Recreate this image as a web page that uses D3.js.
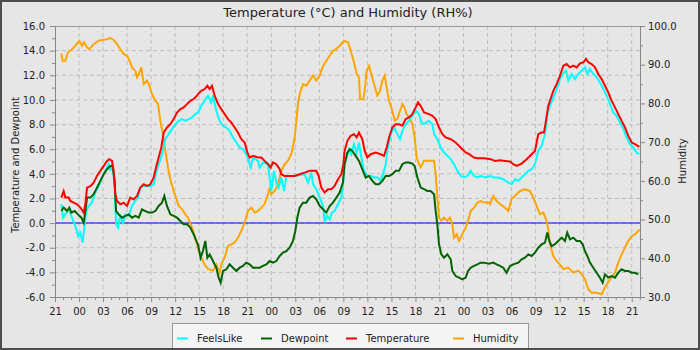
<!DOCTYPE html>
<html><head><meta charset="utf-8">
<script src="https://cdn.jsdelivr.net/npm/d3@7"></script>
<style>
html,body{margin:0;padding:0;background:#e6e6e6;}
svg{display:block;font-family:"DejaVu Sans",sans-serif;}
</style></head>
<body><svg id="c" width="700" height="350"></svg>
<script>
// ---- data (t = hours since 21:00 on the first day) ----
const hourLabels = ["21","00","03","06","09","12","15","18","21","00","03","06","09","12","15","18","21","00","03","06","09","12","15","18","21"];
const seriesNames = ["FeelsLike","Dewpoint","Temperature","Humidity"];
const seriesColors = ["#00ffff","#006400","#ff0000","#ffa500"];

const tempT = [0.79,1.08,1.29,1.71,1.91,2.33,2.75,3.16,3.58,3.79,4.0,4.41,4.83,5.24,5.66,6.08,6.49,6.78,7.12,7.32,7.53,7.74,8.16,8.57,8.99,9.4,9.82,10.24,10.65,11.07,11.49,11.9,12.32,12.61,12.94,13.27,13.57,13.98,14.4,14.81,15.23,15.65,16.06,16.48,16.9,17.31,17.73,17.85,18.27,18.68,19.02,19.31,19.6,19.93,20.35,20.76,21.18,21.6,22.01,22.43,22.84,23.26,23.68,24.01,24.3,24.72,25.34,25.76,26.17,26.59,26.92,27.21,27.63,28.05,28.25,28.67,29.29,29.92,30.54,31.17,31.79,32.62,32.91,33.25,33.66,34.08,34.5,34.91,35.33,35.74,36.0,36.15,36.5,36.91,37.33,37.66,37.95,38.37,38.66,38.99,39.41,40.03,40.66,41.07,41.41,41.7,42.11,42.53,42.95,43.36,43.78,44.19,44.61,45.03,45.32,45.65,46.07,46.69,47.11,47.52,47.94,48.36,48.77,49.4,50.02,50.44,50.85,51.27,51.69,52.31,52.73,53.56,54.39,54.92,55.55,56.17,56.8,57.21,57.63,58.25,58.88,59.5,59.92,60.13,60.33,60.75,61.04,61.29,61.58,61.87,62.21,62.62,62.96,63.25,63.46,63.87,64.29,64.7,65.12,65.54,65.95,66.29,66.58,66.99,67.41,67.82,68.24,68.66,69.07,69.49,69.91,70.32,70.74,71.15,71.57,71.99,72.4,72.94];
const tempV = [2.07,2.6,2.07,2.07,1.8,1.66,1.53,1.26,0.85,1.53,2.88,3.0,3.29,3.83,4.24,4.64,5.05,5.19,5.05,4.24,2.34,1.8,1.53,1.66,1.39,2.07,1.93,2.2,2.88,3.15,3.02,3.15,3.7,4.51,5.32,6.14,7.35,7.76,8.03,8.44,8.98,9.25,9.39,9.66,9.93,10.07,10.34,10.47,10.74,10.88,11.15,10.88,11.15,10.34,9.66,9.25,8.85,8.44,8.17,7.76,7.35,6.81,6.54,5.73,5.32,5.46,5.32,5.32,5.05,4.78,4.51,4.92,4.78,4.37,3.97,3.83,3.83,3.83,3.97,4.1,4.24,4.24,3.83,2.88,2.48,2.75,2.75,3.02,3.56,3.97,4.78,5.86,6.68,7.08,7.22,6.95,7.35,6.81,5.86,5.32,5.59,5.73,5.59,5.46,6.14,6.95,7.76,8.03,8.03,7.9,8.44,8.57,8.85,9.39,9.79,9.52,8.98,8.85,8.71,8.44,7.76,7.22,6.95,6.81,6.54,6.27,6.0,5.73,5.59,5.32,5.27,5.27,5.19,5.05,5.1,5.05,5.0,4.78,4.64,4.83,5.19,5.59,5.86,6.54,7.22,7.35,7.35,8.3,9.52,10.07,10.74,11.28,11.83,12.37,12.78,12.91,12.64,12.78,12.64,12.96,13.05,13.32,13.05,12.91,12.64,12.1,11.69,11.15,10.61,9.93,9.39,8.85,8.3,7.76,7.08,6.54,6.41,6.19];

const feelsT = [0.79,1.0,1.29,1.71,2.12,2.54,2.87,3.16,3.45,3.7,3.91,4.2,4.62,5.03,5.45,5.87,6.28,6.7,6.91,7.12,7.45,7.62,7.87,8.16,8.45,8.78,9.2,9.61,10.03,10.36,10.65,11.07,11.9,12.32,12.61,12.94,13.36,13.77,14.19,14.61,15.02,15.44,15.85,16.27,16.69,17.1,17.52,17.85,18.27,18.68,19.1,19.51,19.72,20.14,20.55,20.97,21.39,21.8,22.22,22.64,23.05,23.47,23.88,24.18,24.43,24.72,25.34,25.55,25.96,26.59,26.8,27.0,27.34,27.63,27.92,28.25,28.59,28.88,29.92,31.17,31.58,32.0,32.21,32.62,33.04,33.46,33.66,34.0,34.29,34.58,34.91,35.33,35.74,36.0,36.15,36.41,36.7,37.0,37.33,37.66,37.95,38.24,38.58,38.99,39.41,39.83,40.24,40.66,41.07,41.28,41.49,41.91,42.32,42.74,43.07,43.36,43.78,44.19,44.61,45.03,45.44,45.73,46.07,46.69,47.11,47.32,47.73,48.15,48.56,48.98,49.4,49.81,50.23,50.65,51.06,51.48,51.89,52.31,52.73,53.14,53.77,54.39,54.72,55.34,55.96,56.59,57.0,57.42,57.84,58.25,58.67,59.09,59.5,59.92,60.33,60.75,61.17,61.46,61.79,62.21,62.62,63.04,63.37,63.79,64.08,64.5,64.91,65.33,65.74,66.16,66.45,66.78,67.2,67.62,68.03,68.45,68.87,69.28,69.7,70.11,70.53,70.95,71.36,71.78,72.19,72.61,72.94];
const feelsV = [1.53,0.44,0.71,1.12,0.44,-0.23,-1.05,-0.77,-1.59,-0.1,0.98,1.39,1.66,2.48,3.0,3.7,4.24,4.78,4.24,4.78,3.15,-0.1,-0.37,0.71,-0.1,0.71,0.58,1.39,1.8,2.07,2.88,3.02,3.0,3.15,4.1,4.78,5.59,6.81,7.22,7.63,8.03,8.3,8.44,8.3,8.44,8.57,8.85,8.98,9.52,9.93,10.34,9.79,10.34,9.12,8.3,7.9,7.76,7.49,6.95,6.54,6.14,6.0,5.59,5.05,4.51,5.32,5.05,4.51,4.92,4.78,3.7,2.61,4.24,3.29,2.88,3.7,2.61,3.83,3.83,3.97,3.29,4.1,3.15,2.75,2.07,1.39,0.17,0.58,0.31,0.85,0.98,1.53,2.07,3.43,4.78,5.32,6.0,5.59,6.41,5.73,6.54,5.32,4.24,3.83,3.83,3.7,3.7,3.43,4.24,4.78,5.86,7.22,7.76,7.22,6.81,7.49,8.03,8.3,8.71,9.12,8.85,8.17,8.03,8.3,8.03,7.22,6.81,6.14,5.73,5.46,5.19,4.78,4.24,3.83,3.7,3.83,4.24,3.83,3.7,3.83,3.7,3.83,3.7,3.7,3.56,3.29,3.15,3.56,3.43,3.7,3.97,4.24,4.37,4.78,5.86,6.27,7.22,8.85,9.52,10.2,10.88,11.69,12.1,12.37,11.56,12.1,11.69,12.1,12.37,12.64,12.1,12.51,12.1,11.83,11.42,10.88,10.34,9.66,8.98,8.71,8.17,7.63,6.95,6.41,6.14,5.73,5.59];

const dewT = [0.79,1.08,1.5,1.79,2.04,2.45,2.87,3.29,3.58,3.79,4.0,4.41,4.83,5.24,5.66,6.08,6.49,6.91,7.2,7.45,7.62,7.95,8.37,8.78,9.2,9.61,10.03,10.45,10.86,11.28,11.69,12.11,12.53,12.94,13.36,13.65,13.98,14.4,14.81,15.23,15.65,16.06,16.48,16.9,17.31,17.73,17.85,18.18,18.47,18.77,19.02,19.31,19.72,20.14,20.43,20.68,20.97,21.39,21.8,22.22,22.64,23.05,23.47,23.88,24.3,24.72,25.55,25.96,26.38,26.8,27.21,27.63,28.05,28.46,28.88,29.29,29.71,30.0,30.25,30.54,30.96,31.37,31.79,32.21,32.62,33.04,33.46,33.87,34.29,34.7,35.12,35.54,35.95,36.15,36.5,36.83,37.12,37.54,37.95,38.37,38.79,39.2,39.62,40.03,40.45,40.87,41.28,41.7,42.11,42.53,42.95,43.36,43.78,44.19,44.61,44.9,45.24,45.65,46.07,46.48,46.9,47.32,47.52,47.73,47.94,48.23,48.56,48.98,49.4,49.6,50.02,50.44,50.85,51.27,51.56,51.89,52.31,52.73,53.14,53.56,54.18,54.72,55.13,55.55,55.96,56.38,56.8,57.21,57.84,58.25,58.67,59.09,59.5,59.92,60.33,60.75,61.17,61.46,61.71,62.0,62.41,62.83,63.25,63.66,63.95,64.29,64.7,65.12,65.54,65.87,66.16,66.45,66.78,67.2,67.62,68.03,68.37,68.66,69.07,69.49,69.91,70.32,70.74,71.15,71.57,71.99,72.4,72.82];
const dewV = [0.98,1.26,0.98,1.26,0.85,0.98,0.71,0.44,0.03,0.98,2.07,2.07,2.34,2.88,3.43,3.97,4.37,4.64,4.64,3.43,0.98,0.71,0.44,0.58,0.71,0.44,0.58,0.44,1.12,0.98,0.85,0.85,0.98,1.39,1.66,2.2,1.39,0.71,0.58,0.44,0.17,-0.1,-0.1,-0.37,-0.91,-1.59,-1.72,-2.81,-2.27,-1.45,-2.81,-2.54,-3.08,-3.62,-4.43,-4.84,-3.89,-3.75,-3.35,-3.62,-3.89,-3.62,-3.48,-3.21,-3.35,-3.62,-3.62,-3.48,-3.35,-3.08,-3.21,-3.08,-2.67,-2.4,-2.27,-2.0,-1.45,-0.64,0.44,1.26,1.66,1.66,2.07,2.2,1.93,1.39,1.12,0.85,1.39,1.66,2.07,2.48,3.29,4.78,5.73,6.0,5.86,5.46,5.05,4.37,3.7,3.83,3.43,3.15,3.15,3.43,3.83,3.83,3.97,4.24,4.24,4.78,4.92,4.92,4.83,4.64,3.7,2.88,2.75,2.61,2.61,2.34,0.98,-0.1,-1.72,-2.54,-2.81,-2.54,-2.94,-3.89,-4.3,-4.43,-4.57,-4.43,-3.89,-3.62,-3.48,-3.35,-3.21,-3.21,-3.3,-3.21,-3.35,-3.48,-3.62,-4.03,-3.48,-3.35,-3.21,-2.94,-2.81,-2.54,-2.67,-2.4,-2.0,-1.72,-1.59,-0.77,-1.45,-1.86,-1.72,-1.45,-1.18,-1.45,-0.77,-1.32,-1.18,-1.45,-1.45,-1.72,-2.27,-2.67,-3.21,-3.62,-4.03,-4.43,-4.84,-4.16,-4.43,-4.3,-4.43,-4.03,-3.75,-3.89,-3.89,-4.03,-4.03,-4.16];

const humT = [0.79,0.96,1.29,1.62,2.12,2.54,3.04,3.37,3.62,4.0,4.29,4.83,5.45,5.87,6.49,6.91,7.32,7.74,8.16,8.57,8.99,9.4,9.61,10.03,10.24,10.53,10.78,11.07,11.49,11.78,12.11,12.53,12.86,13.15,13.48,13.77,14.11,14.44,14.81,15.1,15.44,15.85,16.27,16.6,17.1,17.52,17.94,18.27,18.68,19.1,19.72,20.14,20.55,20.76,21.18,21.6,22.01,22.43,22.84,23.26,23.68,24.09,24.51,24.92,25.34,25.76,26.17,26.59,26.8,27.0,27.42,27.84,28.25,28.67,29.09,29.5,29.92,30.13,30.33,30.54,30.96,31.37,31.79,32.21,32.62,33.04,33.46,33.87,34.29,34.7,35.12,35.54,35.95,36.08,36.58,36.91,37.33,37.66,37.95,38.08,38.49,38.66,38.91,39.2,39.49,39.83,40.24,40.57,40.87,41.16,41.41,41.7,42.11,42.41,42.74,43.07,43.36,43.65,43.9,44.19,44.61,44.9,45.15,45.44,45.65,46.07,46.69,47.32,47.52,47.73,47.94,48.23,48.56,48.98,49.31,49.6,49.81,50.15,50.44,50.85,51.27,51.69,51.89,52.31,52.73,53.14,53.56,54.18,54.3,54.72,55.13,55.55,56.17,56.59,57.0,57.42,58.05,58.67,59.29,59.71,60.13,60.54,60.96,61.37,61.58,61.79,62.21,62.62,63.04,63.46,64.08,64.7,65.33,65.74,66.16,66.58,66.99,67.62,68.24,68.66,69.07,69.49,69.91,70.32,70.74,71.15,71.57,71.99,72.4,72.82,73.0];
const humV = [92.9,91.0,91.0,93.2,94.0,94.9,96.2,94.9,95.8,94.5,94.0,95.3,96.2,96.4,96.6,96.9,96.4,95.3,94.0,92.8,92.3,90.6,89.3,88.4,86.7,87.9,89.3,85.0,85.9,84.6,82.4,80.7,79.8,75.5,72.0,67.8,63.4,60.0,57.4,55.7,53.5,52.7,51.4,50.5,47.9,45.3,41.9,40.2,38.4,37.2,36.8,38.4,36.3,38.4,40.2,43.2,43.6,44.1,45.3,47.1,49.2,52.2,53.1,51.8,52.2,53.1,54.0,56.6,58.3,56.6,57.4,59.1,62.6,64.3,65.2,66.9,71.2,75.5,79.8,82.4,85.0,84.6,85.9,87.2,85.9,87.2,89.7,91.0,92.3,93.6,94.1,94.9,95.8,96.2,95.8,93.6,90.6,87.6,86.7,81.1,81.1,83.3,88.4,89.7,87.6,85.0,82.0,83.3,85.9,87.2,84.1,80.7,78.1,75.5,76.0,78.1,79.8,78.9,77.2,76.4,74.7,71.2,66.0,64.3,63.5,65.2,65.2,65.2,61.7,55.7,50.5,49.7,50.5,49.7,50.5,48.8,45.3,46.2,44.5,46.2,47.9,50.5,52.2,53.1,54.4,54.8,54.4,54.4,54.0,56.1,54.8,54.0,53.1,52.2,55.3,56.1,57.4,57.8,57.4,55.7,53.5,51.4,51.8,49.7,47.6,43.6,40.6,39.3,38.4,37.2,37.6,36.3,36.8,35.9,34.6,32.0,31.1,31.1,30.7,32.5,33.8,35.1,36.3,38.9,41.0,42.8,44.5,45.7,46.2,47.1,47.4];

// ---- layout ----
const L = 55, R = 640, T = 26, B = 297;
const svg = d3.select("#c");
svg.append("rect").attr("x",1).attr("y",1).attr("width",698).attr("height",348)
  .attr("fill","#e6e6e6").attr("stroke","#4d4d4d").attr("stroke-width",2);

const x = d3.scaleLinear().domain([0,73.03]).range([L,R]);
const yL = d3.scaleLinear().domain([-6,16]).range([B,T]);
const yR = d3.scaleLinear().domain([30,100]).range([B,T]);

const majorX = d3.range(0,73,3);
const minorX = d3.range(0,74,1).filter(h=>h%3!==0 && h<=73);
const majorYL = d3.range(-6,16.01,2);
const minorYL = d3.range(-5,16,2);
const majorYR = d3.range(30,100.01,10);
const minorYR = d3.range(35,100,10);

// grid
const grid = svg.append("g").attr("stroke","#bdbdbd").attr("stroke-dasharray","4,3").attr("stroke-width",1);
majorX.filter(h=>h>0).forEach(h=>grid.append("line").attr("x1",x(h)).attr("x2",x(h)).attr("y1",T).attr("y2",B));
majorYL.filter(v=>v>-6 && v<16).forEach(v=>grid.append("line").attr("x1",L).attr("x2",R).attr("y1",yL(v)).attr("y2",yL(v)));

// frame top
svg.append("line").attr("x1",L).attr("x2",R).attr("y1",T+0.5).attr("y2",T+0.5).attr("stroke","#999");

// zero line
svg.append("line").attr("x1",L).attr("x2",R).attr("y1",yL(0)).attr("y2",yL(0))
  .attr("stroke","#0000ff").attr("stroke-opacity",0.5).attr("stroke-width",2);

// series
function mk(ts, vs){ return ts.map((t,i)=>({t:t,v:vs[i]})); }
const lineL = d3.line().x(d=>x(d.t)).y(d=>yL(d.v));
const lineR = d3.line().x(d=>x(d.t)).y(d=>yR(d.v));
const draw = (data, gen, col) => svg.append("path").datum(data).attr("d",gen)
  .attr("fill","none").attr("stroke",col).attr("stroke-width",2).attr("stroke-linejoin","miter");
draw(mk(humT,humV), lineR, seriesColors[3]);
draw(mk(feelsT,feelsV), lineL, seriesColors[0]);
draw(mk(dewT,dewV), lineL, seriesColors[1]);
draw(mk(tempT,tempV), lineL, seriesColors[2]);

// axes
const axCol = "#888";
function style(g){ g.select(".domain").attr("stroke",axCol); g.selectAll(".tick line").attr("stroke",axCol);
  g.selectAll("text").attr("fill","#222").attr("font-size","10px").attr("font-family","DejaVu Sans"); }
svg.append("g").attr("transform",`translate(0,${B})`)
  .call(d3.axisBottom(x).tickValues(majorX).tickFormat((d,i)=>hourLabels[i]).tickSize(5).tickSizeOuter(0).tickPadding(6))
  .call(style);
svg.append("g").attr("transform",`translate(0,${B})`)
  .call(d3.axisBottom(x).tickValues(minorX).tickFormat("").tickSize(3).tickSizeOuter(0))
  .call(style).select(".domain").remove();
svg.append("g").attr("transform",`translate(${L},0)`)
  .call(d3.axisLeft(yL).tickValues(majorYL).tickFormat(d=>d.toFixed(1)).tickSize(5).tickSizeOuter(0).tickPadding(5))
  .call(style);
svg.append("g").attr("transform",`translate(${L},0)`)
  .call(d3.axisLeft(yL).tickValues(minorYL).tickFormat("").tickSize(3).tickSizeOuter(0))
  .call(style).select(".domain").remove();
svg.append("g").attr("transform",`translate(${R},0)`)
  .call(d3.axisRight(yR).tickValues(majorYR).tickFormat(d=>d.toFixed(1)).tickSize(5).tickSizeOuter(0).tickPadding(3))
  .call(style);
svg.append("g").attr("transform",`translate(${R},0)`)
  .call(d3.axisRight(yR).tickValues(minorYR).tickFormat("").tickSize(3).tickSizeOuter(0))
  .call(style).select(".domain").remove();

// titles
svg.append("text").attr("x",348).attr("y",17).attr("text-anchor","middle")
  .attr("font-size","13px").attr("fill","#222").text("Temperature (°C) and Humidity (RH%)");
svg.append("text").attr("transform","translate(19,165) rotate(-90)").attr("text-anchor","middle")
  .attr("font-size","10px").attr("fill","#222").text("Temperature and Dewpoint");
svg.append("text").attr("transform","translate(686,161) rotate(-90)").attr("text-anchor","middle")
  .attr("font-size","10px").attr("fill","#222").text("Humidity");

// legend
const lg = svg.append("g");
lg.append("rect").attr("x",172.5).attr("y",323.5).attr("width",356).attr("height",30)
  .attr("fill","#f4f4f4").attr("stroke","#999");
const legX = [177,261,346,453];
seriesNames.forEach((n,i)=>{
  lg.append("line").attr("x1",legX[i]).attr("x2",legX[i]+11).attr("y1",338.5).attr("y2",338.5)
    .attr("stroke",seriesColors[i]).attr("stroke-width",2);
  lg.append("text").attr("x",legX[i]+20).attr("y",341.5).attr("font-size","10px").attr("fill","#222").text(n);
});
// outer border on top
svg.append("rect").attr("x",1).attr("y",1).attr("width",698).attr("height",348)
  .attr("fill","none").attr("stroke","#4d4d4d").attr("stroke-width",2);
</script></body></html>
